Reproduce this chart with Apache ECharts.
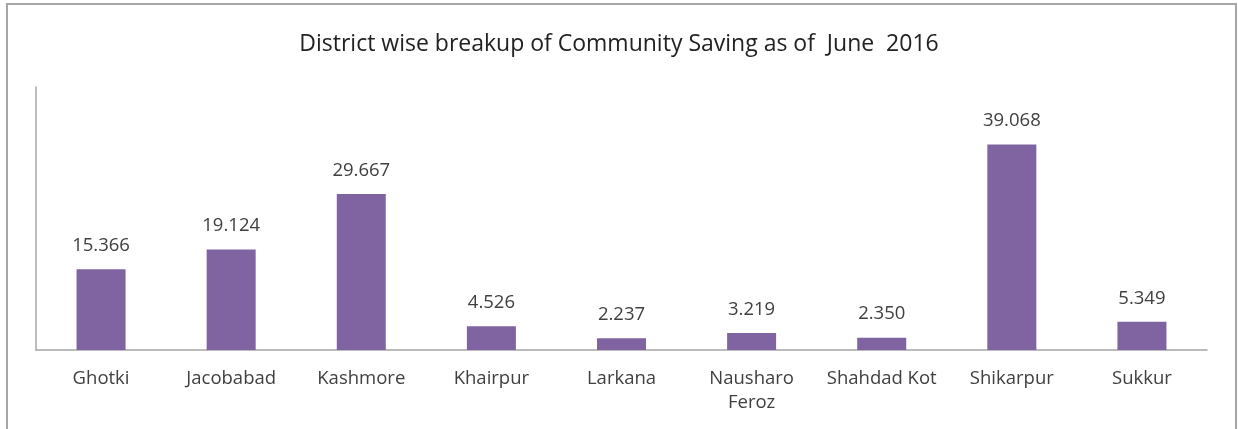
<!DOCTYPE html>
<html>
<head>
<meta charset="utf-8">
<script src="https://cdn.jsdelivr.net/npm/echarts@6/dist/echarts.min.js"></script>
<style>
  html, body { margin: 0; padding: 0; background: #fff; }
  #chart { width: 1238px; height: 429px; }
</style>
</head>
<body>
<div id="chart"></div>
<script>
const districts = ['Ghotki', 'Jacobabad', 'Kashmore', 'Khairpur', 'Larkana', 'Nausharo\nFeroz', 'Shahdad Kot', 'Shikarpur', 'Sukkur']
const savings = [15.366, 19.124, 29.667, 4.526, 2.237, 3.219, 2.350, 39.068, 5.349]

const textColor = '#404040'
const fontFamily = '"Open Sans", "Liberation Sans", sans-serif'

const chart = echarts.init(document.getElementById('chart'))
chart.setOption({
  animation: false,
  backgroundColor: '#ffffff',
  title: {
    text: 'District wise breakup of Community Saving as of  June  2016',
    left: 'center',
    top: 28,
    textStyle: { color: '#222', fontSize: 23, fontWeight: 'normal', fontFamily: fontFamily }
  },
  graphic: [{
    type: 'rect',
    shape: { x: 7, y: 4, width: 1229, height: 440 },
    style: { fill: null, stroke: '#a6a6a6', lineWidth: 2 },
    silent: true
  }],
  grid: { left: 36, right: 31, top: 87, bottom: 79 },
  xAxis: {
    type: 'category',
    data: districts,
    axisLine: { lineStyle: { color: '#a6a6a6', width: 1.5 } },
    axisTick: { show: false },
    axisLabel: {
      color: textColor, fontSize: 18.5, fontFamily: fontFamily,
      margin: 17, lineHeight: 24, interval: 0
    }
  },
  yAxis: {
    type: 'value',
    min: 0,
    max: 50,
    axisLine: { show: true, lineStyle: { color: '#a6a6a6', width: 1.5 } },
    axisTick: { show: false },
    axisLabel: { show: false },
    splitLine: { show: false }
  },
  series: [{
    type: 'bar',
    data: savings,
    barWidth: 49,
    itemStyle: { color: '#8064a2' },
    label: {
      show: true,
      position: 'top',
      distance: 14,
      color: textColor,
      fontSize: 18.5,
      fontFamily: fontFamily,
      formatter: (p) => p.value.toFixed(3)
    }
  }]
})
</script>
</body>
</html>
